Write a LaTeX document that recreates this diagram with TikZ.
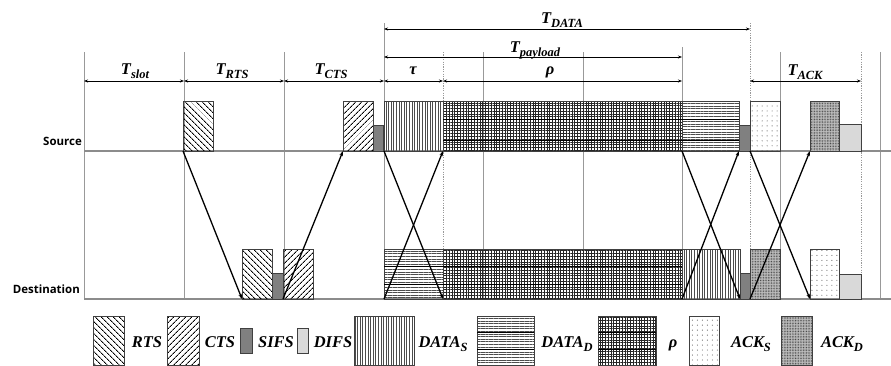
\documentclass[tikz,border=0pt]{standalone}
\usepackage{fontspec}
\newfontfamily\labfont{Open Sans}
\newfontfamily\labserif{Liberation Serif}
\usetikzlibrary{patterns,patterns.meta,arrows.meta}
\newcommand\lbl[2]{{\labserif\bfseries\itshape #1\raisebox{-0.28em}{\fontsize{12.5}{13}\selectfont #2}}}
\tikzset{
  box/.style={draw=black!75,line width=0.8pt,inner sep=0pt,outer sep=0pt,anchor=south west},
  pRTS/.style={pattern={Lines[angle=-45,distance=4pt,line width=0.9pt]}},
  pCTS/.style={pattern={Lines[angle=45,distance=4pt,line width=0.9pt]}},
  pSIFS/.style={fill=black!50},
  pDIFS/.style={fill=black!15},
  pDS/.style={pattern={Lines[angle=90,distance=2.6pt,line width=0.5pt]},pattern color=black!70},
  pDD/.style={pattern={Lines[angle=0,distance=2.6pt,line width=0.5pt]},pattern color=black!70},
  pRHO/.style={pattern={Hatch[angle=0,distance=2.8pt,line width=0.5pt]},pattern color=black!85},
  pAS/.style={pattern={Dots[distance=5pt,radius=0.55pt]},pattern color=black!65},
  pAD/.style={preaction={fill=black!25},pattern={Dots[distance=1.6pt,radius=0.45pt]},pattern color=black!80},
  grid/.style={draw=black!40,line width=0.7pt},
  dgrid/.style={draw=black!40,line width=0.7pt,dash pattern=on 1.2pt off 1.2pt},
  base/.style={draw=black!45,line width=1.2pt},
  sig/.style={line width=1.3pt,-{Stealth[length=5pt,width=3.5pt]}},
  dim/.style={line width=0.8pt,{Stealth[length=4pt,width=3pt]}-{Stealth[length=4pt,width=3pt]}},
  lab/.style={font=\fontsize{16.5}{18}\selectfont,anchor=base,inner sep=0pt},
  sdlab/.style={font=\labfont\bfseries\fontsize{11.5}{13}\selectfont,anchor=base east,inner sep=0pt},
}
\begin{document}
\begin{tikzpicture}[x=1bp,y=-1bp]
\useasboundingbox[fill=white] (0,0) rectangle (891,365);
% grid lines
\foreach \x/\t in {84/52,184/52,284/52,384/23,483/52,583/52,682/47,780/52,880/52}
  \draw[grid] (\x,\t) -- (\x,299);
\foreach \x/\t in {443/52,750/23,861/52}
  \draw[dgrid] (\x,\t) -- (\x,299);
% baselines
\draw[base] (84,151) -- (891,151);
\draw[base] (84,299) -- (891,299);
% row labels
\node[sdlab] (src) at (82,145) {Source};
\node[sdlab] (dst) at (80,293) {Destination};
% source boxes
\node[box,pRTS,minimum width=30bp,minimum height=50bp] (sRTS) at (183,151) {};
\node[box,pCTS,minimum width=30bp,minimum height=50bp] (sCTS) at (343,151) {};
\node[box,pSIFS,minimum width=10bp,minimum height=26bp] (sSIFS1) at (373,151) {};
\node[box,pDS,minimum width=59bp,minimum height=50bp] (sDS) at (384,151) {};
\node[box,pRHO,minimum width=239bp,minimum height=50bp] (sRHO) at (443,151) {};
\node[box,pDD,minimum width=57bp,minimum height=50bp] (sDD) at (682,151) {};
\node[box,pSIFS,minimum width=11bp,minimum height=26bp] (sSIFS2) at (739,151) {};
\node[box,pAS,minimum width=30bp,minimum height=50bp] (sAS) at (750,151) {};
\node[box,pAD,minimum width=29bp,minimum height=50bp] (sAD) at (810,151) {};
\node[box,pDIFS,minimum width=22bp,minimum height=27bp] (sDIFS) at (839,151) {};
\draw[line width=0.9pt] (443,119) -- (739,119) (443,140) -- (739,140);
% destination boxes
\node[box,pRTS,minimum width=30bp,minimum height=50bp] (dRTS) at (242,299) {};
\node[box,pSIFS,minimum width=11bp,minimum height=26bp] (dSIFS1) at (272,299) {};
\node[box,pCTS,minimum width=30bp,minimum height=50bp] (dCTS) at (283,299) {};
\node[box,pDD,minimum width=59bp,minimum height=50bp] (dDD) at (384,299) {};
\node[box,pRHO,minimum width=239bp,minimum height=50bp] (dRHO) at (443,299) {};
\node[box,pDS,minimum width=58bp,minimum height=50bp] (dDS) at (682,299) {};
\node[box,pSIFS,minimum width=10bp,minimum height=26bp] (dSIFS2) at (740,299) {};
\node[box,pAD,minimum width=30bp,minimum height=50bp] (dAD) at (750,299) {};
\node[box,pAS,minimum width=29bp,minimum height=50bp] (dAS) at (810,299) {};
\node[box,pDIFS,minimum width=22bp,minimum height=25bp] (dDIFS) at (839,299) {};
\draw[line width=0.9pt] (384,266) -- (682,266) (384,284) -- (682,284);
% signal arrows
\draw[sig] (sRTS.south west) -- (dRTS.south west);
\draw[sig] (dCTS.south west) -- (sCTS.south west);
\draw[sig] (sDS.south west) -- (dRHO.south west);
\draw[sig] (dDD.south west) -- (sRHO.south west);
\draw[sig] (sDD.south west) -- (dSIFS2.south west);
\draw[sig] (dDS.south west) -- (sSIFS2.south west);
\draw[sig] (sAS.south west) -- (dAS.south west);
\draw[sig] (dAD.south west) -- (sAD.south west);
% dimension arrows
\coordinate (a0) at (84,81); \coordinate (a1) at (184,81);
\coordinate (a2) at (284,81); \coordinate (a3) at (384,81);
\coordinate (a4) at (443,81); \coordinate (a5) at (682,81);
\coordinate (a6) at (750,81); \coordinate (a7) at (861,81);
\coordinate (p0) at (384,57); \coordinate (p1) at (682,57);
\coordinate (d0) at (384,29); \coordinate (d1) at (750,29);
\draw[dim] (a0) -- (a1); \draw[dim] (a1) -- (a2); \draw[dim] (a2) -- (a3);
\draw[dim] (a3) -- (a4); \draw[dim] (a4) -- (a5); \draw[dim] (a6) -- (a7);
\draw[dim] (p0) -- (p1); \draw[dim] (d0) -- (d1);
\node[lab] (lslot) at (135,74) {\lbl{T}{slot}};
\node[lab] (lrts) at (232,74) {\lbl{T}{RTS}};
\node[lab] (lcts) at (331,74) {\lbl{T}{CTS}};
\node[lab] (ltau) at (413,74) {\lbl{τ}{}};
\node[lab] (lrho) at (550,74) {\lbl{ρ}{}};
\node[lab] (lpay) at (535,52) {\lbl{T}{payload}};
\node[lab] (ldata) at (562,23) {\lbl{T}{DATA}};
\node[lab] (lack) at (805,75) {\lbl{T}{ACK}};
% legend
\node[box,pRTS,minimum width=31bp,minimum height=49bp] (kRTS) at (93,365) {};
\node[lab] (tRTS) at (147,347) {\lbl{RTS}{}};
\node[box,pCTS,minimum width=32bp,minimum height=49bp] (kCTS) at (167,365) {};
\node[lab] (tCTS) at (220,347) {\lbl{CTS}{}};
\node[box,pSIFS,minimum width=12bp,minimum height=25bp] (kSIFS) at (240,353) {};
\node[lab] (tSIFS) at (276,347) {\lbl{SIFS}{}};
\node[box,pDIFS,minimum width=11bp,minimum height=25bp] (kDIFS) at (297,353) {};
\node[lab] (tDIFS) at (333,347) {\lbl{DIFS}{}};
\node[box,pDS,minimum width=60bp,minimum height=49bp] (kDS) at (354,365) {};
\node[lab] (tDS) at (443,347) {\lbl{DATA}{S}};
\node[box,pDD,minimum width=57bp,minimum height=49bp] (kDD) at (477,365) {};
\draw[line width=0.9pt] (477,332) -- (534,332) (477,349) -- (534,349);
\node[lab] (tDD) at (567,347) {\lbl{DATA}{D}};
\node[box,pRHO,minimum width=58bp,minimum height=49bp] (kRHO) at (598,365) {};
\draw[line width=0.9pt] (598,332) -- (656,332) (598,349) -- (656,349);
\node[lab] (tRHO) at (673,347) {\lbl{ρ}{}};
\node[box,pAS,minimum width=30bp,minimum height=49bp] (kAS) at (689,365) {};
\node[lab] (tAS) at (751,347) {\lbl{ACK}{S}};
\node[box,pAD,minimum width=31bp,minimum height=49bp] (kAD) at (781,365) {};
\node[lab] (tAD) at (842,347) {\lbl{ACK}{D}};
\end{tikzpicture}
\end{document}
